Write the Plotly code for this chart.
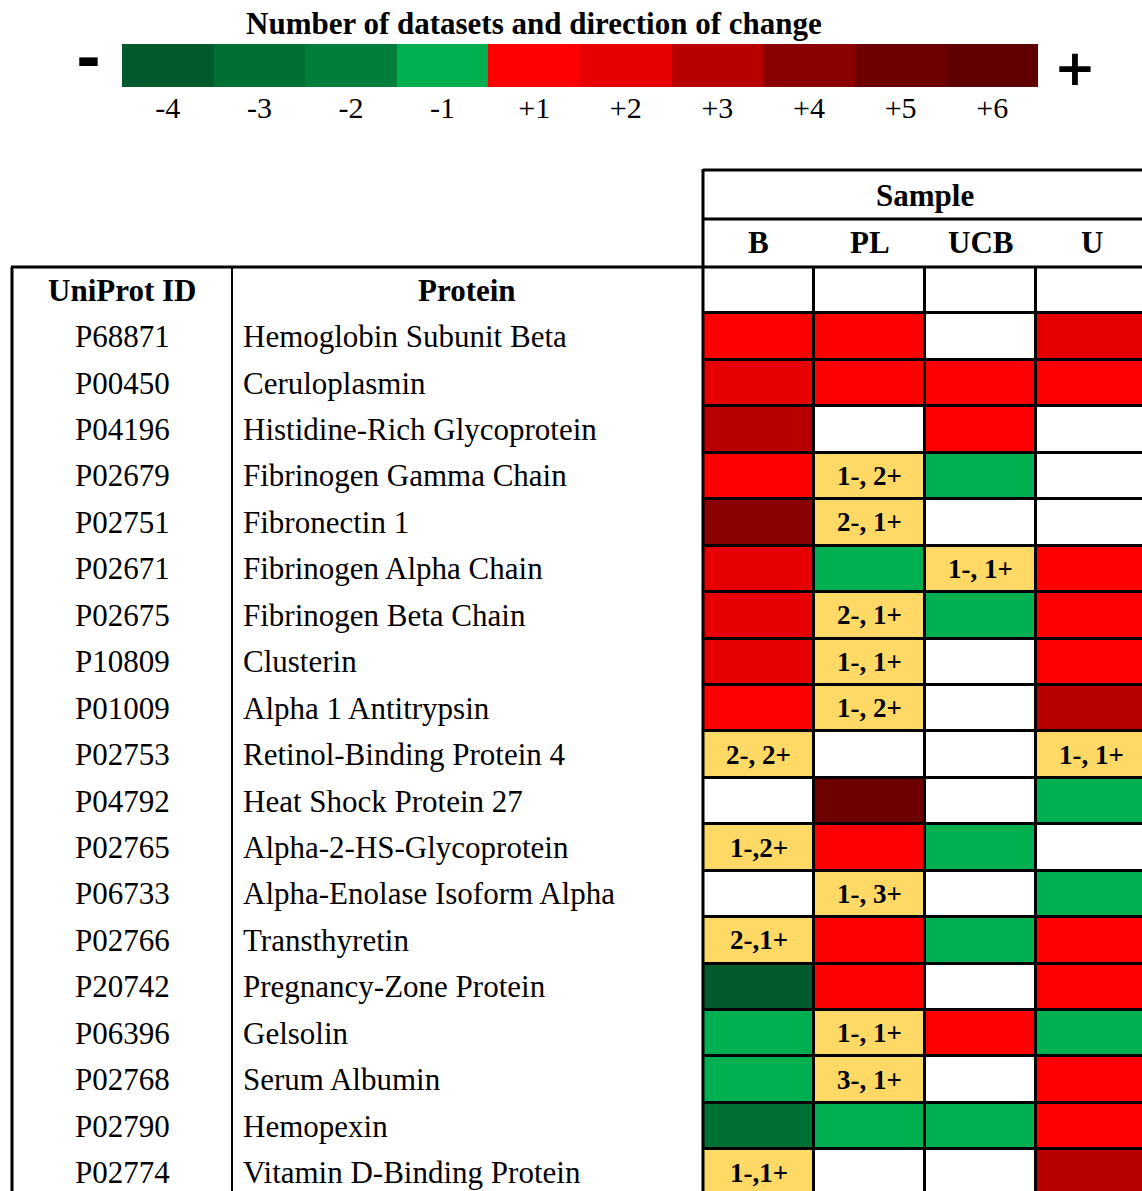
import plotly.graph_objects as go

W, H = 1142, 1191

# ---------------- data ----------------
uniprot_ids = ["P68871", "P00450", "P04196", "P02679", "P02751", "P02671", "P02675",
               "P10809", "P01009", "P02753", "P04792", "P02765", "P06733", "P02766",
               "P20742", "P06396", "P02768", "P02790", "P02774"]
proteins = ["Hemoglobin Subunit Beta", "Ceruloplasmin", "Histidine-Rich Glycoprotein",
            "Fibrinogen Gamma Chain", "Fibronectin 1", "Fibrinogen Alpha Chain",
            "Fibrinogen Beta Chain", "Clusterin", "Alpha 1 Antitrypsin",
            "Retinol-Binding Protein 4", "Heat Shock Protein 27", "Alpha-2-HS-Glycoprotein",
            "Alpha-Enolase Isoform Alpha", "Transthyretin", "Pregnancy-Zone Protein",
            "Gelsolin", "Serum Albumin", "Hemopexin", "Vitamin D-Binding Protein"]
samples = ["B", "PL", "UCB", "U"]

# None = no data, int = number of datasets (sign = direction), str = mixed
B = [1, 2, 3, 1, 4, 2, 2, 2, 1, "2-, 2+", None, "1-,2+", None, "2-,1+", -4, -1, -1, -3, "1-,1+"]
PL = [1, 1, None, "1-, 2+", "2-, 1+", -1, "2-, 1+", "1-, 1+", "1-, 2+", None, 5, 1,
      "1-, 3+", 1, 1, "1-, 1+", "3-, 1+", -1, None]
UCB = [None, 1, 1, -1, None, "1-, 1+", -1, None, None, None, None, -1, None, -1, None, 1,
       None, -1, None]
U = [2, 1, None, None, None, 1, 1, 1, 3, "1-, 1+", -1, None, -1, 1, 1, -1, 1, 1, 3]

levels = [-4, -3, -2, -1, 1, 2, 3, 4, 5, 6]
level_labels = ["-4", "-3", "-2", "-1", "+1", "+2", "+3", "+4", "+5", "+6"]
level_colors = ["#005A2C", "#006F34", "#007E3A", "#00B050", "#FF0000", "#E60000",
                "#B80000", "#8B0000", "#6E0000", "#600000"]
none_color = "#FFFFFF"
mixed_color = "#FFD966"

# ---------------- helpers ----------------
def px(x):
    return x / W

def py(y):
    return 1 - y / H

all_colors = level_colors + [none_color, mixed_color]
n = len(all_colors)
colorscale = []
for i, c in enumerate(all_colors):
    colorscale.append([i / n, c])
    colorscale.append([(i + 1) / n, c])

def code(v):
    if v is None:
        return 10
    if isinstance(v, str):
        return 11
    return levels.index(v)

cols = [B, PL, UCB, U]
nrows = len(uniprot_ids)
# row 0 = header row (empty cells)
z = [[10] * len(samples)]
for r in range(nrows):
    z.append([code(c[r]) for c in cols])

SERIF = "Liberation Serif, Times New Roman, serif"
FS = 31

fig = go.Figure()

fig.add_trace(go.Heatmap(
    z=z, x=list(range(len(samples))), y=list(range(nrows + 1)),
    colorscale=colorscale, zmin=-0.5, zmax=n - 0.5, showscale=False,
    xgap=3, ygap=3, hoverinfo="skip", xaxis="x", yaxis="y"))

# legend bar
fig.add_trace(go.Heatmap(
    z=[list(range(len(levels)))], x=list(range(len(levels))), y=[0],
    colorscale=colorscale, zmin=-0.5, zmax=n - 0.5, showscale=False,
    hoverinfo="skip", xaxis="x2", yaxis="y2"))

col_w = 111.0
row_h = 46.44
x0_px = 703
y0_px = 267

fig.update_layout(
    width=W, height=H, margin=dict(l=0, r=0, t=0, b=0),
    paper_bgcolor="white", plot_bgcolor="black", showlegend=False,
    xaxis=dict(domain=[px(x0_px), 1], range=[-0.5, -0.5 + (W - x0_px) / col_w],
               showticklabels=False, showgrid=False, zeroline=False, fixedrange=True),
    yaxis=dict(domain=[0, py(y0_px)], range=[-0.5 + (H - y0_px) / row_h, -0.5],
               showticklabels=False, showgrid=False, zeroline=False, fixedrange=True),
    xaxis2=dict(domain=[px(122), px(1038)], range=[-0.5, len(levels) - 0.5], anchor="y2",
                tickvals=list(range(len(levels))), ticktext=level_labels, ticks="",
                ticklabelstandoff=0,
                showgrid=False, zeroline=False, showline=False,
                tickfont=dict(family=SERIF, size=30, color="black")),
    yaxis2=dict(domain=[py(87), py(44)], range=[-0.5, 0.5], anchor="x2",
                showticklabels=False, showgrid=False, zeroline=False),
)

def a(text, x, y, xref="paper", yref="paper", size=FS, family=SERIF, xanchor="center"):
    return dict(text=text, x=x, y=y, xref=xref, yref=yref, xanchor=xanchor,
                yanchor="middle", showarrow=False,
                font=dict(family=family, size=size, color="black"))

ann = []
ann.append(a("<b>Number of datasets and direction of change</b>", px(534), py(23), size=31))
ann.append(a("<b>-</b>", px(88), py(58), size=60, family="DejaVu Sans"))
ann.append(a("<b>+</b>", px(1075), py(68), size=50, family="DejaVu Sans"))

# sample headers
ann.append(a("<b>Sample</b>", px(925), py(195)))
for i, s in enumerate(samples):
    ann.append(a("<b>%s</b>" % s, i, py(243), xref="x"))

# table headers
ann.append(a("<b>UniProt ID</b>", px(122), 0, yref="y"))
ann.append(a("<b>Protein</b>", px(467), 0, yref="y"))

for r in range(nrows):
    ann.append(a(uniprot_ids[r], px(122), r + 1, yref="y"))
    ann.append(a(proteins[r], px(241), r + 1, yref="y", xanchor="left"))
    for c, col in enumerate(cols):
        if isinstance(col[r], str):
            ann.append(a("<b>%s</b>" % col[r], c, r + 1, xref="x", yref="y", size=27))

fig.update_layout(annotations=ann)

lw = 3
line = dict(color="black", width=lw)
shapes = [
    dict(type="line", xref="paper", yref="paper", x0=px(11), x1=1, y0=py(267), y1=py(267), line=line),
    dict(type="line", xref="paper", yref="paper", x0=px(12), x1=px(12), y0=py(267), y1=0, line=line),
    dict(type="line", xref="paper", yref="paper", x0=px(232), x1=px(232), y0=py(267), y1=0,
         line=dict(color="black", width=2)),
    dict(type="line", xref="paper", yref="paper", x0=px(703), x1=1, y0=py(170), y1=py(170), line=line),
    dict(type="line", xref="paper", yref="paper", x0=px(703), x1=1, y0=py(219), y1=py(219), line=line),
    dict(type="line", xref="paper", yref="paper", x0=px(703), x1=px(703), y0=py(169), y1=0, line=line),
]
fig.update_layout(shapes=shapes)

fig.write_html("out.html", config={"displayModeBar": False},
               post_script="document.body.style.margin='0px';document.body.style.overflow='hidden';")
